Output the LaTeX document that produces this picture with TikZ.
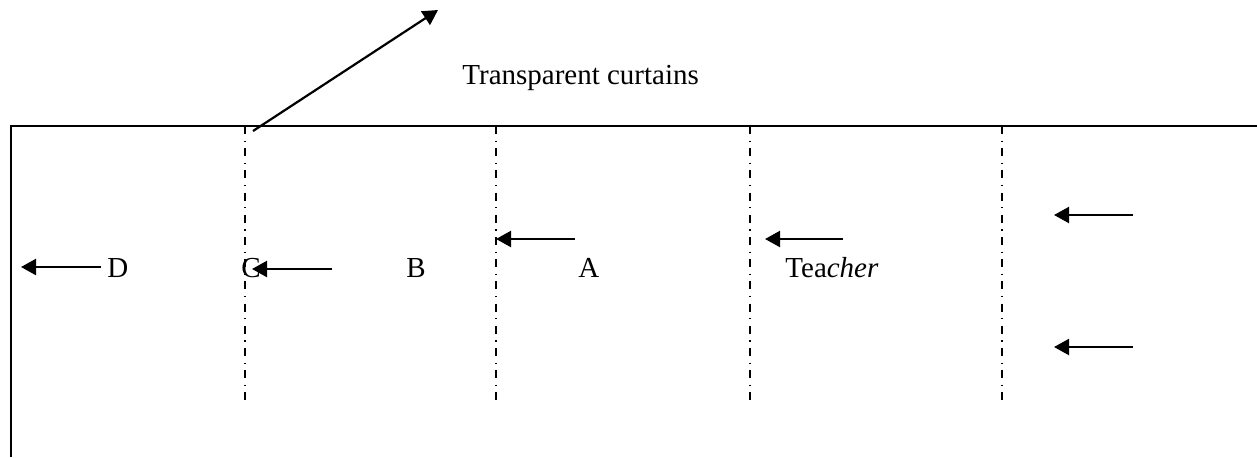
\documentclass[tikz,border=0pt]{standalone}
\usepackage{fontspec}
\setmainfont{Liberation Serif}
\usetikzlibrary{arrows.meta}
\begin{document}
\begin{tikzpicture}[x=0.5pt,y=-0.5pt,
  frame/.style={line width=1.1pt},
  curtain/.style={line width=0.7pt, dash pattern=on 4pt off 3.25pt on 0.6pt off 3.25pt},
  mover/.style={line width=1.1pt, -{Triangle[length=7.5pt,width=8pt]}},
  lbl/.style={font=\fontsize{14.5}{17}\selectfont, inner sep=0pt, anchor=base west}]
\useasboundingbox (0,0) rectangle (1257,457);
% frame
\draw[frame] (11,457) -- (11,126) -- (1257,126);
% curtains
\foreach \x/\n in {245/c1,496/c2,750/c3,1002/c4}{
  \coordinate (\n t) at (\x,126);
  \coordinate (\n b) at (\x,401);
  \draw[curtain] (\n t) -- (\n b);
}
% labels
\node[lbl] (tc) at (462,84) {Transparent curtains};
\node[lbl] (D) at (107,277) {D};
\node[lbl] (C) at (241,277) {C};
\node[lbl] (B) at (406,277) {B};
\node[lbl] (A) at (578,277) {A};
\node[lbl] (T) at (785,277) {Tea\textit{cher}};
% arrow to label
\coordinate (ds) at (253,131);
\coordinate (de) at (438,10);
\draw[mover] (ds) -- (de);
% movement arrows
\coordinate (a1s) at (101,267); \coordinate (a1e) at (21,267);
\coordinate (a2s) at (332,269); \coordinate (a2e) at (252,269);
\coordinate (a3s) at (575,239); \coordinate (a3e) at (496,239);
\coordinate (a4s) at (843,239); \coordinate (a4e) at (765,239);
\coordinate (a5s) at (1133,215); \coordinate (a5e) at (1054,215);
\coordinate (a6s) at (1133,347); \coordinate (a6e) at (1054,347);
\foreach \n in {a1,a2,a3,a4,a5,a6}{\draw[mover] (\n s) -- (\n e);}
\end{tikzpicture}
\end{document}
